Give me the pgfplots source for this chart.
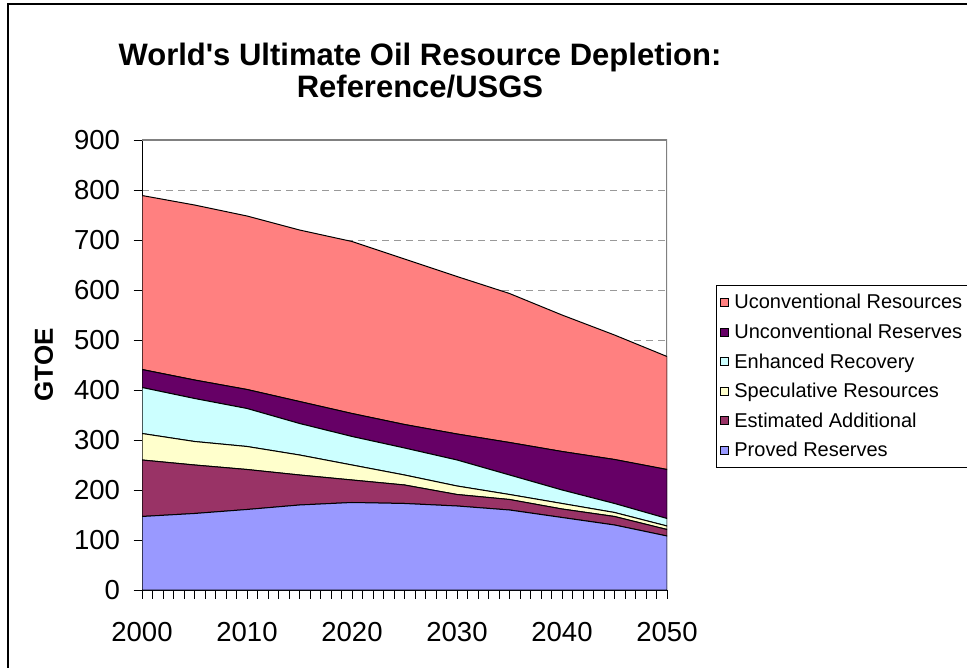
\documentclass[border=0pt]{standalone}
\usepackage{pgfplots}
\pgfplotsset{compat=1.18}
\usepackage{fontspec}
\setmainfont{Liberation Sans}[Ligatures=TeXOff]
\definecolor{cUcR}{HTML}{FF8080}
\definecolor{cUR}{HTML}{660066}
\definecolor{cEnh}{HTML}{CCFFFF}
\definecolor{cSpec}{HTML}{FFFFCC}
\definecolor{cEst}{HTML}{993366}
\definecolor{cProv}{HTML}{9999FF}
\begin{document}
\begin{tikzpicture}[x=1pt,y=1pt]
\path[use as bounding box] (0,0) rectangle (967,667);
\draw[line width=1.3pt] (8,-5) -- (8,663) -- (980,663);
\node[font=\fontsize{31}{36}\selectfont\bfseries, anchor=base] at (420,601) {World's Ultimate Oil Resource Depletion:};
\node[font=\fontsize{31}{36}\selectfont\bfseries, anchor=base] at (420,569) {Reference/USGS};
\node[font=\fontsize{26}{30}\selectfont\bfseries, rotate=90] at (44,302) {GTOE};
\begin{axis}[
  at={(142pt,77pt)}, anchor=south west,
  scale only axis, width=525pt, height=450pt,
  xmin=2000, xmax=2050, ymin=0, ymax=900,
  xtick={2000,2010,2020,2030,2040,2050},
  minor x tick num=9,
  ytick={0,100,...,900},
  axis x line*=bottom, axis y line*=left,
  axis line style={black, line width=1pt},
  tick align=outside,
  major tick length=8.5pt, minor tick length=8.5pt,
  tick style={black, line width=0.8pt},
  ymajorgrids,
  grid style={gray!80, dash pattern=on 7pt off 5pt, line width=0.8pt},
  /pgf/number format/assume math mode=true,
  /pgf/number format/1000 sep={},
  tick label style={font=\fontsize{27.5}{31}\selectfont},
  yticklabel style={xshift=-10pt},
  xticklabel style={yshift=-20pt},
  stack plots=y,
  axis on top=false,
  every axis plot/.append style={draw=black, line width=1pt, mark=none},
  reverse legend,
  legend style={at={(1.0933,0.6778)}, anchor=north west, draw=black, line width=0.8pt,
    font=\fontsize{20}{22}\selectfont, row sep=9.6pt, inner xsep=3pt, inner ysep=7pt},
  legend cell align=left,
  legend image code/.code={\draw[#1, draw=black, line width=0.8pt] (0pt,-4pt) rectangle (8pt,4pt); \path (-1pt,0pt) (11pt,0pt);},
]
\addplot[fill=cProv] coordinates {(2000,147)(2005,153)(2010,161)(2015,170)(2020,175)(2025,173)(2030,168)(2035,160)(2040,145)(2045,130)(2050,108)} \closedcycle;
\addlegendentry{Proved Reserves}
\addplot[fill=cEst] coordinates {(2000,113)(2005,97)(2010,80)(2015,60)(2020,45)(2025,37)(2030,23)(2035,21)(2040,17)(2045,17)(2050,13)} \closedcycle;
\addlegendentry{Estimated Additional}
\addplot[fill=cSpec] coordinates {(2000,53)(2005,47)(2010,46)(2015,40)(2020,30)(2025,20)(2030,17)(2035,10)(2040,11)(2045,8)(2050,7)} \closedcycle;
\addlegendentry{Speculative Resources}
\addplot[fill=cEnh] coordinates {(2000,92)(2005,86)(2010,76)(2015,63)(2020,57)(2025,54)(2030,52)(2035,39)(2040,27)(2045,18)(2050,15)} \closedcycle;
\addlegendentry{Enhanced Recovery}
\addplot[fill=cUR] coordinates {(2000,36)(2005,37)(2010,38)(2015,44)(2020,46)(2025,47)(2030,52)(2035,65)(2040,77)(2045,88)(2050,98)} \closedcycle;
\addlegendentry{Unconventional Reserves}
\addplot[fill=cUcR] coordinates {(2000,348)(2005,350)(2010,347)(2015,343)(2020,344)(2025,331)(2030,315)(2035,298)(2040,273)(2045,249)(2050,226)} \closedcycle;
\addlegendentry{Uconventional Resources}
\draw[gray, line width=2pt] (axis cs:2000,900) -- (axis cs:2050,900) -- (axis cs:2050,0);
\draw[black, line width=1pt] (axis cs:2000,900) -- (axis cs:2000,0) -- (axis cs:2050,0);
\end{axis}
\end{tikzpicture}
\end{document}
